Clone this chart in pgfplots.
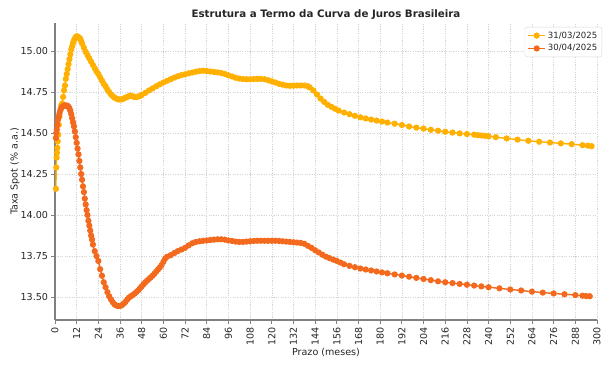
\documentclass[border=0pt]{standalone}
\usepackage{pgfplots}
\pgfplotsset{compat=1.18}
\usepackage{fontspec}
\setmainfont{DejaVu Sans}
\definecolor{cA}{RGB}{255,176,0}
\definecolor{cB}{RGB}{243,106,30}
\definecolor{spine}{RGB}{128,128,128}
\begin{document}
\begin{tikzpicture}
\path[use as bounding box] (-55bp,-46bp) rectangle (556bp,320bp);
\begin{axis}[
  at={(0,0)}, anchor=south west,
  scale only axis, width=542bp, height=297bp,
  xmin=0, xmax=300, ymin=13.36, ymax=15.171,
  xtick={0,12,...,300},
  ytick={13.5,13.75,14,14.25,14.5,14.75,15},
  /pgf/number format/assume math mode=true,
  y tick label style={/pgf/number format/.cd, fixed, fixed zerofill, precision=2},
  x tick label style={rotate=90, anchor=east},
  tick label style={font=\fontsize{9.6}{11}\selectfont, text=black!85},
  axis x line*=bottom, axis y line*=left,
  axis line style={spine, line width=1.3bp, -},
  tick style={spine, line width=0.8bp},
  major tick length=3.5bp, tick align=outside,
  grid=major,
  grid style={black!16, line width=0.6bp, dash pattern=on 1.2bp off 1.2bp},
  title={\bfseries Estrutura a Termo da Curva de Juros Brasileira},
  title style={at={(axis description cs:0.5,1)}, anchor=south, yshift=-6pt, font=\fontsize{10.3}{12}\selectfont, text=black!85},
  xlabel={Prazo (meses)},
  ylabel={Taxa Spot (\% a.a.)},
  xlabel style={at={(axis description cs:0.5,-0.108)}, anchor=center, font=\fontsize{9.6}{11}\selectfont, text=black!85},
  ylabel style={at={(axis description cs:-0.0738,0.5)}, anchor=center, font=\fontsize{9.6}{11}\selectfont, text=black!85},
  legend style={at={(axis description cs:1,1)}, anchor=north east, xshift=5bp, yshift=-4bp,
    draw=black!15, rounded corners=2bp, font=\fontsize{8.6}{10}\selectfont, text=black!85,
    row sep=1bp, inner sep=2.5bp},
  legend cell align=left,
]
\addplot[cA, line width=1.4bp, mark=*, mark size=2.4pt, mark options={draw=cA, fill=cA}] coordinates {
(0.5,14.16)(0.7,14.29)(0.9,14.35)(1.1,14.38)(1.3,14.41)(1.5,14.45)(1.8,14.49)(2.1,14.55)(2.5,14.60)(3,14.64)(3.5,14.67)(4,14.68)(4.5,14.72)(5,14.76)(5.5,14.79)(6,14.83)(6.5,14.86)(7,14.89)(7.5,14.92)(8,14.95)(8.5,14.98)(9,15.01)(9.5,15.03)(10,15.05)(10.5,15.065)(11,15.075)(11.5,15.085)(12,15.09)(12.5,15.088)(13,15.085)(13.5,15.08)(14,15.075)(14.5,15.06)(15,15.045)(16,15.02)(17,14.995)(18,14.975)(19,14.955)(20,14.935)(21,14.915)(22,14.895)(23,14.875)(24,14.86)(25,14.84)(26,14.82)(27,14.80)(28,14.785)(29,14.765)(30,14.75)(31,14.735)(32,14.725)(33,14.715)(34,14.71)(35,14.705)(36,14.705)(37,14.705)(38,14.71)(39,14.715)(40,14.72)(41,14.725)(42,14.728)(43,14.724)(44,14.72)(45,14.72)(46,14.722)(47,14.726)(48,14.732)(50,14.745)(52,14.76)(54,14.772)(56,14.785)(58,14.797)(60,14.808)(62,14.818)(64,14.828)(66,14.838)(68,14.846)(70,14.853)(72,14.858)(74,14.864)(76,14.869)(78,14.874)(80,14.878)(82,14.88)(84,14.878)(86,14.875)(88,14.872)(90,14.87)(92,14.866)(94,14.86)(96,14.852)(98,14.845)(100,14.837)(102,14.832)(104,14.829)(106,14.828)(108,14.828)(110,14.829)(112,14.83)(114,14.83)(116,14.828)(118,14.822)(120,14.815)(122,14.808)(124,14.80)(126,14.795)(128,14.79)(130,14.788)(132,14.789)(134,14.79)(136,14.79)(138,14.79)(140,14.785)(141,14.778)(143,14.76)(145,14.735)(147,14.71)(149,14.69)(151,14.672)(153,14.66)(155,14.648)(157,14.637)(160,14.625)(163,14.615)(166,14.605)(169,14.596)(172,14.589)(175,14.582)(178,14.576)(181,14.57)(184,14.564)(188,14.557)(192,14.549)(196,14.54)(200,14.533)(204,14.527)(208,14.52)(212,14.514)(216,14.508)(220,14.503)(224,14.498)(228,14.494)(232,14.49)(234,14.487)(236,14.485)(238,14.483)(240,14.48)(244,14.475)(250,14.467)(256,14.46)(262,14.453)(268,14.447)(274,14.442)(280,14.437)(286,14.432)(292,14.426)(295,14.423)(297,14.42)
};
\addlegendentry{31/03/2025}
\addplot[cB, line width=1.4bp, mark=*, mark size=2.4pt, mark options={draw=cB, fill=cB}] coordinates {
(0.5,14.47)(0.7,14.50)(1,14.52)(1.3,14.55)(1.6,14.58)(2,14.60)(2.5,14.62)(3,14.64)(3.5,14.655)(4,14.66)(4.5,14.665)(5,14.667)(5.5,14.668)(6,14.668)(6.5,14.667)(7,14.665)(7.5,14.66)(8,14.65)(8.5,14.635)(9,14.615)(9.5,14.59)(10,14.565)(10.5,14.54)(11,14.51)(11.5,14.475)(12,14.44)(12.5,14.405)(13,14.37)(13.5,14.33)(14,14.29)(14.5,14.25)(15,14.215)(15.5,14.175)(16,14.14)(16.5,14.10)(17,14.065)(17.5,14.03)(18,14.0)(18.5,13.965)(19,13.935)(19.5,13.905)(20,13.875)(20.5,13.85)(21,13.82)(22,13.78)(23,13.75)(24,13.72)(25,13.67)(26,13.63)(27,13.59)(28,13.56)(29,13.53)(30,13.505)(31,13.485)(32,13.468)(33,13.455)(34,13.448)(35,13.445)(36,13.446)(37,13.45)(38,13.46)(39,13.47)(40,13.485)(41,13.497)(42,13.505)(43,13.512)(44,13.52)(45,13.53)(46,13.54)(47,13.553)(48,13.565)(49,13.578)(50,13.59)(51,13.6)(52,13.61)(53,13.62)(54,13.63)(55,13.642)(56,13.655)(57,13.668)(58,13.68)(59,13.695)(60,13.715)(61,13.735)(62,13.745)(64,13.755)(66,13.768)(68,13.78)(70,13.79)(72,13.80)(74,13.815)(76,13.828)(78,13.836)(80,13.84)(82,13.843)(84,13.845)(86,13.848)(88,13.85)(90,13.852)(92,13.852)(94,13.85)(96,13.845)(98,13.842)(100,13.838)(102,13.836)(104,13.836)(106,13.838)(108,13.84)(110,13.842)(112,13.843)(114,13.843)(116,13.843)(118,13.843)(120,13.843)(122,13.843)(124,13.842)(126,13.84)(128,13.838)(130,13.836)(132,13.834)(134,13.832)(136,13.83)(138,13.825)(140,13.812)(142,13.80)(144,13.785)(146,13.772)(148,13.758)(150,13.746)(152,13.737)(154,13.728)(156,13.72)(158,13.71)(160,13.70)(163,13.69)(166,13.682)(169,13.674)(172,13.668)(175,13.662)(178,13.656)(181,13.65)(184,13.645)(188,13.638)(192,13.631)(196,13.624)(200,13.617)(204,13.61)(208,13.603)(212,13.596)(216,13.59)(220,13.585)(224,13.58)(228,13.575)(232,13.57)(236,13.565)(240,13.56)(246,13.553)(252,13.546)(258,13.54)(264,13.533)(270,13.527)(276,13.522)(282,13.517)(288,13.512)(292,13.508)(294,13.506)(296,13.505)
};
\addlegendentry{30/04/2025}
\end{axis}
\end{tikzpicture}
\end{document}
